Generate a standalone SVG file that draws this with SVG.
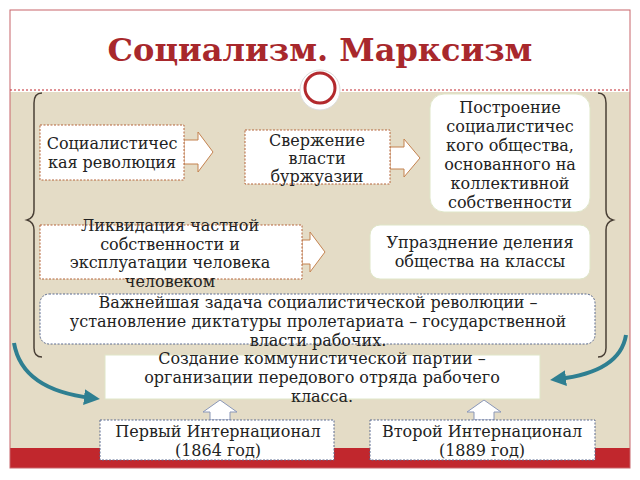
<svg xmlns="http://www.w3.org/2000/svg" width="640" height="480" viewBox="0 0 640 480">
<defs>
<style>
.t{font-family:"DejaVu Serif","Liberation Serif",serif;font-size:16px;fill:#222;text-anchor:middle}
.bx{fill:#fff;stroke:#b5643a;stroke-width:1;stroke-dasharray:2 1.5}
.rb{fill:#fff;stroke:#dfe6c8;stroke-width:1}
.bl{fill:#fff;stroke:#5a6a90;stroke-width:1;stroke-dasharray:2 1.5}
.ar{fill:#fff;stroke:#c4824f;stroke-width:1}
.ua{fill:#fff;stroke:#8a97b8;stroke-width:1}
.br{fill:none;stroke:#4a4036;stroke-width:1.5}
.cv{fill:none;stroke:#2e7f91;stroke-width:4}
</style>
<marker id="m" markerWidth="4" markerHeight="4" refX="2" refY="2" orient="auto" markerUnits="strokeWidth"><path d="M0,0 L4,2 L0,4 z" fill="#2e7f91"/></marker>
</defs>
<rect width="640" height="480" fill="#fff"/>
<rect x="10" y="92" width="620" height="356" fill="#e4dcc6"/>
<rect x="10" y="448" width="620" height="20" fill="#c1272d"/>
<rect x="10" y="10" width="620" height="458" fill="none" stroke="#c8646a" stroke-width="1"/>
<line x1="10" y1="90" x2="630" y2="90" stroke="#c1272d" stroke-dasharray="2 2"/>
<text x="320" y="61" font-family="DejaVu Serif,serif" font-weight="bold" font-size="32" fill="#a8282c" text-anchor="middle">Социализм. Марксизм</text>
<circle cx="320" cy="90" r="20" fill="#fff" stroke="#ddd"/>
<circle cx="320" cy="88" r="15" fill="#fff" stroke="#b32a2e" stroke-width="3"/>
<g id="braces">
<path class="br" d="M42,93 Q34,93 34,103 L34,210 Q34,218 27,220 Q34,222 34,230 L34,348 Q34,357 42,357"/>
<path class="br" d="M598,93 Q606,93 606,103 L606,210 Q606,218 613,220 Q606,222 606,230 L606,348 Q606,357 598,357"/>
</g>
<g id="connectors">
<path class="ar" d="M184,140 L198,140 L198,132 L213,152 L198,172 L198,164 L184,164 z"/>
<path class="ar" d="M390,147 L404,147 L404,139 L420,158 L404,177 L404,169 L390,169 z"/>
<path class="ar" d="M302,240 L310,240 L310,232 L325,252 L310,272 L310,264 L302,264 z"/>
<path class="ua" d="M210,420 L210,412 L203,412 L220,400 L237,412 L230,412 L230,420 z"/>
<path class="ua" d="M474,420 L474,412 L467,412 L484,400 L501,412 L494,412 L494,420 z"/>
<path class="cv" d="M14,343 Q22,390 92,398" marker-end="url(#m)"/>
<path class="cv" d="M626,335 Q620,372 558,379" marker-end="url(#m)"/>
</g>
<g id="n1"><rect class="bx" x="40" y="125" width="144" height="55"/><text class="t" x="112" y="149">Социалистичес</text><text class="t" x="112" y="168">кая революция</text></g>
<g id="n2"><rect class="bx" x="245" y="130" width="145" height="54"/><text class="t" x="317" y="146">Свержение</text><text class="t" x="317" y="164">власти</text><text class="t" x="317" y="182">буржуазии</text></g>
<g id="n3"><rect class="rb" x="430" y="94" width="160" height="118" rx="14"/><text class="t" x="510" y="113">Построение</text><text class="t" x="510" y="132">социалистичес</text><text class="t" x="510" y="151">кого общества,</text><text class="t" x="510" y="170">основанного на</text><text class="t" x="510" y="189">коллективной</text><text class="t" x="510" y="208">собственности</text></g>
<g id="n4"><rect class="bx" x="40" y="225" width="262" height="54"/><text class="t" x="170" y="231">Ликвидация частной</text><text class="t" x="170" y="250">собственности и</text><text class="t" x="170" y="268">эксплуатации человека</text><text class="t" x="170" y="287">человеком</text></g>
<g id="n5"><rect class="rb" x="370" y="225" width="220" height="54" rx="10"/><text class="t" x="480" y="248">Упразднение деления</text><text class="t" x="480" y="267">общества на классы</text></g>
<g id="n6"><rect class="bl" x="40" y="294" width="555" height="50" rx="9"/><text class="t" x="318" y="308">Важнейшая задача социалистической революции –</text><text class="t" x="318" y="327">установление диктатуры пролетариата – государственной</text><text class="t" x="318" y="346">власти рабочих.</text></g>
<g id="n7"><rect class="rb" x="105" y="355" width="435" height="44"/><text class="t" x="322" y="364">Создание коммунистической партии –</text><text class="t" x="322" y="383">организации передового отряда рабочего</text><text class="t" x="322" y="402">класса.</text></g>
<g id="n8"><rect class="bl" x="100" y="420" width="234" height="40"/><text class="t" x="218" y="437">Первый Интернационал</text><text class="t" x="218" y="456">(1864 год)</text></g>
<g id="n9"><rect class="bl" x="370" y="420" width="225" height="40"/><text class="t" x="482" y="437">Второй Интернационал</text><text class="t" x="482" y="456">(1889 год)</text></g>
</svg>
